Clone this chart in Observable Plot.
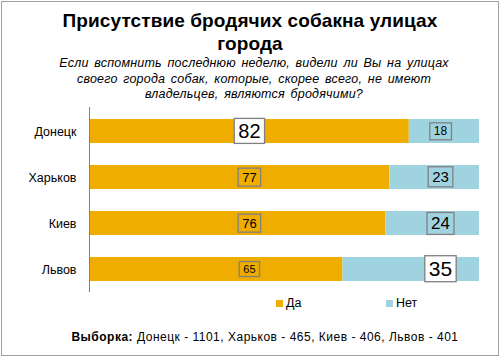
<!DOCTYPE html>
<html>
<head>
<meta charset="utf-8">
<script src="https://cdn.jsdelivr.net/npm/d3@7"></script>
<script src="https://cdn.jsdelivr.net/npm/@observablehq/plot@0.6"></script>
<style>
  html, body { margin: 0; padding: 0; background: #fff; }
  body { width: 500px; height: 357px; position: relative; overflow: hidden; font-family: "Liberation Sans", Arial, sans-serif; color: #000; }
  #frame { position: absolute; left: 1px; top: 1px; width: 496px; height: 353px; border: 1px solid #a0a0a0; }
  #title { position: absolute; left: 0; width: 500px; top: 9px; text-align: center; font-weight: bold; font-size: 19px; line-height: 23px; letter-spacing: 0.1px; }
  #subtitle { position: absolute; left: 4px; width: 500px; top: 56px; text-align: center; font-style: italic; font-size: 12.5px; line-height: 15.5px; word-spacing: 2px; letter-spacing: 0.2px; }
  #chart { position: absolute; left: 0; top: 100px; }
  #legend { position: absolute; top: 296px; left: 0; width: 500px; height: 16px; font-size: 12.5px; }
  .lg { position: absolute; display: flex; align-items: center; }
  .sw { width: 7px; height: 7px; margin-right: 3px; }
  #footer { position: absolute; left: 0; width: 500px; top: 330px; text-align: center; font-size: 12px; letter-spacing: 0.5px; padding-left: 30px; box-sizing: border-box; }
</style>
</head>
<body>
<div id="frame"></div>
<div id="title">Присутствие бродячих собакна улицах<br>города</div>
<div id="subtitle">Если вспомнить последнюю неделю, видели ли Вы на улицах<br>своего города собак, которые, скорее всего, не имеют<br>владельцев, являются бродячими?</div>
<div id="chart"></div>
<div id="legend"></div>
<div id="footer"><b>Выборка:</b> Донецк - 1101, Харьков - 465, Киев - 406, Львов - 401</div>
<script>
// Data
const cities = ["Донецк", "Харьков", "Киев", "Львов"];
const yesValues = [82, 77, 76, 65];
const noValues = [18, 23, 24, 35];
const seriesNames = ["Да", "Нет"];

// Styles (not data)
const colors = ["#EFAD00", "#A0D3E0"];
const yesLabelSize = [20, 13, 13, 11];
const noLabelSize = [12, 15, 17, 21];
const yesLabelFill = ["white", "none", "none", "none"];
const noLabelFill = ["none", "none", "none", "white"];
const yesLabelPos = 41;  // label anchor in percent units
const noLabelPos = 90;

const rows = [];
cities.forEach((c, i) => {
  rows.push({city: c, series: seriesNames[0], x1: 0, x2: yesValues[i], value: yesValues[i], pos: yesLabelPos, size: yesLabelSize[i], boxFill: yesLabelFill[i]});
  rows.push({city: c, series: seriesNames[1], x1: yesValues[i], x2: yesValues[i] + noValues[i], value: noValues[i], pos: noLabelPos, size: noLabelSize[i], boxFill: noLabelFill[i]});
});

const chart = Plot.plot({
  width: 500,
  height: 195,
  marginLeft: 89,
  marginRight: 21,
  marginTop: 7,
  marginBottom: 3,
  style: {fontFamily: "'Liberation Sans', Arial, sans-serif", fontSize: "12px", color: "#000", background: "transparent"},
  x: {domain: [0, 100], axis: null},
  y: {domain: cities, paddingInner: 0.48, paddingOuter: 0.24, label: null, tickSize: 0, tickPadding: 13},
  color: {domain: seriesNames, range: colors},
  marks: [
    Plot.barX(rows, {y: "city", x1: "x1", x2: "x2", fill: "series"}),
    Plot.ruleX([0], {stroke: "#808080", strokeWidth: 1}),
    ...rows.map(r => Plot.text([r], {
      x: "pos", y: "city", text: d => String(d.value),
      fontSize: r.size, fill: "#000", className: "vlabel",
      fontFamily: "'Liberation Sans', Arial, sans-serif"
    })),
    Plot.axisY({tickSize: 0, tickPadding: 13, label: null, fontSize: 12.5})
  ]
});
document.getElementById("chart").appendChild(chart);

// Draw boxes around the value labels
const texts = chart.querySelectorAll("g.vlabel text, .vlabel text");
texts.forEach((t, i) => {
  const r = rows[i];
  const bb = t.getBBox();
  const px = 4, py = 1.5;
  const rect = document.createElementNS("http://www.w3.org/2000/svg", "rect");
  rect.setAttribute("x", bb.x - px);
  rect.setAttribute("y", bb.y - py);
  rect.setAttribute("width", bb.width + 2 * px);
  rect.setAttribute("height", bb.height + 2 * py);
  rect.setAttribute("fill", r.boxFill);
  rect.setAttribute("stroke", "#808080");
  rect.setAttribute("stroke-width", 1.3);
  const tr = t.getAttribute("transform");
  if (tr) rect.setAttribute("transform", tr);
  t.parentNode.insertBefore(rect, t);
});

// Legend
const legend = document.getElementById("legend");
const legendX = [276, 386];
seriesNames.forEach((s, i) => {
  const d = document.createElement("div");
  d.className = "lg";
  d.style.left = legendX[i] + "px";
  d.innerHTML = `<span class="sw" style="background:${colors[i]}"></span><span>${s}</span>`;
  legend.appendChild(d);
});
</script>
</body>
</html>
